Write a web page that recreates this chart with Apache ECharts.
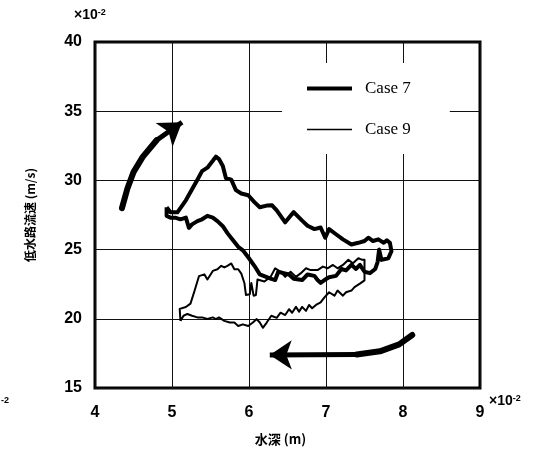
<!DOCTYPE html>
<html>
<head>
<meta charset="utf-8">
<script src="https://cdn.jsdelivr.net/npm/echarts@6/dist/echarts.min.js"></script>
<style>
  html, body { margin: 0; padding: 0; background: #fff; }
  #mainBox { width: 537px; height: 460px; }
</style>
</head>
<body>
<div id="mainBox"></div>
<script>
// axis ranges (x: 水深 ×10^-2 m, y: 低水路流速 ×10^-2 m/s)
var xTicks = [4, 5, 6, 7, 8, 9];
var yTicks = [15, 20, 25, 30, 35, 40];

// Case 7 (thick loop)
var case7 = [[4.93,28.06],[4.98,27.7],[5.07,27.69],[5.18,28.56],[5.33,30.05],[5.39,30.67],[5.46,30.92],[5.53,31.42],[5.57,31.72],[5.61,31.54],[5.66,31.04],[5.70,30.17],[5.77,30.05],[5.83,29.30],[5.90,29.05],[5.99,28.93],[6.07,28.43],[6.14,28.06],[6.23,28.18],[6.30,28.2],[6.36,27.83],[6.47,26.97],[6.58,27.71],[6.69,27.09],[6.76,26.72],[6.85,26.48],[6.93,26.60],[6.99,25.86],[7.04,26.48],[7.13,26.11],[7.22,25.74],[7.33,25.37],[7.42,25.49],[7.50,25.62],[7.55,25.86],[7.61,25.62],[7.68,25.74],[7.75,25.49],[7.79,25.67],[7.83,25.49],[7.85,24.88],[7.81,24.38],[7.72,24.26],[7.69,25.0],[7.67,24.1],[7.64,23.6],[7.57,23.3],[7.5,23.4],[7.44,23.9],[7.39,23.6],[7.33,23.9],[7.26,23.5],[7.2,23.6],[7.13,23.1],[7.04,23.0],[6.98,22.8],[6.93,22.6],[6.89,22.8],[6.85,23.1],[6.76,23.2],[6.69,22.8],[6.58,22.9],[6.52,23.2],[6.45,23.3],[6.38,23.4],[6.34,22.8],[6.28,22.9],[6.23,23.01],[6.14,23.21],[6.07,23.83],[5.99,24.45],[5.92,24.95],[5.86,25.20],[5.79,25.70],[5.72,26.19],[5.66,26.69],[5.59,27.06],[5.53,27.31],[5.46,27.44],[5.39,27.19],[5.33,27.06],[5.26,26.82],[5.22,26.57],[5.18,27.31],[5.11,27.19],[5.04,27.31],[4.98,27.31],[4.93,27.44],[4.93,28.06]];

// Case 9 (thin loop)
var case9 = [[5.11,19.85],[5.10,20.72],[5.18,20.85],[5.24,21.1],[5.29,21.97],[5.35,23.08],[5.42,23.21],[5.46,22.84],[5.53,23.46],[5.59,23.58],[5.64,23.83],[5.68,23.71],[5.72,23.83],[5.77,24.0],[5.81,23.58],[5.86,23.58],[5.90,23.26],[5.94,22.59],[5.96,21.72],[6.01,21.77],[6.03,22.59],[6.06,21.67],[6.09,21.72],[6.11,22.84],[6.2,22.7],[6.28,23.03],[6.34,23.65],[6.41,23.40],[6.47,23.03],[6.54,23.40],[6.61,23.03],[6.67,23.28],[6.74,23.65],[6.80,23.52],[6.89,23.52],[6.96,23.77],[7.02,23.65],[7.09,23.89],[7.15,23.65],[7.22,23.89],[7.29,24.26],[7.35,24.01],[7.42,24.38],[7.47,24.26],[7.50,24.26],[7.50,22.78],[7.44,22.54],[7.37,22.29],[7.33,22.04],[7.26,21.92],[7.22,21.67],[7.15,22.04],[7.11,21.67],[7.04,21.92],[6.98,21.55],[6.93,21.18],[6.87,21.0],[6.82,20.76],[6.78,21.0],[6.74,20.57],[6.69,20.86],[6.65,20.52],[6.61,20.86],[6.56,20.44],[6.52,20.69],[6.47,20.27],[6.41,20.44],[6.36,20.07],[6.29,20.22],[6.23,19.73],[6.18,19.35],[6.14,19.73],[6.10,19.98],[6.05,19.73],[5.99,19.48],[5.92,19.60],[5.86,19.48],[5.81,19.73],[5.75,19.73],[5.68,19.85],[5.61,20.10],[5.57,19.98],[5.53,20.10],[5.46,19.98],[5.39,20.10],[5.33,20.10],[5.26,20.22],[5.20,20.35],[5.15,20.22],[5.11,19.85]];

// direction arrows (body, then last segment carries the head)
var arrowUp = [[4.35,28.0],[4.42,29.4],[4.50,30.6],[4.62,31.7],[4.80,32.9],[5.13,34.2]];
var arrowLeft = [[8.12,18.83],[7.95,18.15],[7.70,17.65],[7.40,17.42],[6.27,17.38]];

var labelFont = { color: '#000', fontFamily: 'Liberation Sans', fontWeight: 'bold', fontSize: 16 };
var expRich = {
    a: { fontFamily: 'Liberation Sans', fontWeight: 'bold', fontSize: 14, color: '#000' },
    b: { fontFamily: 'Liberation Sans', fontWeight: 'bold', fontSize: 9, color: '#000', verticalAlign: 'top', padding: [0, 0, 6, 0] }
};

function headOf(pts) {
    return [pts[pts.length - 2], pts[pts.length - 1]];
}

var myChart = echarts.init(document.getElementById('mainBox'));

var option = {
    animation: false,
    backgroundColor: '#fff',
    grid: {
        left: 95, top: 42, right: 57, bottom: 72,
        show: true, borderColor: '#000', borderWidth: 3, backgroundColor: 'transparent'
    },
    xAxis: {
        type: 'value', min: xTicks[0], max: xTicks[xTicks.length - 1], interval: 1,
        axisLine: { show: false },
        axisTick: { show: false },
        axisLabel: Object.assign({ margin: 17 }, labelFont),
        splitLine: { show: true, lineStyle: { color: '#111', width: 1 } },
        name: '水深 (m)', nameLocation: 'middle', nameGap: 45,
        nameTextStyle: { color: '#000', fontFamily: 'Noto Sans CJK JP', fontWeight: 'bold', fontSize: 13, padding: [0, 14, 0, 0] }
    },
    yAxis: {
        type: 'value', min: yTicks[0], max: yTicks[yTicks.length - 1], interval: 5,
        axisLine: { show: false },
        axisTick: { show: false },
        axisLabel: Object.assign({ margin: 13 }, labelFont),
        splitLine: { show: true, lineStyle: { color: '#111', width: 1 } },
        name: '低水路流速 (m/s)', nameLocation: 'middle', nameGap: 59, nameRotate: 90,
        nameTextStyle: { color: '#000', fontFamily: 'Noto Sans CJK JP', fontWeight: 'bold', fontSize: 12 }
    },
    legend: {
        orient: 'vertical', left: 282, top: 63,
        backgroundColor: '#fff',
        padding: [17, 39, 16, 25],
        itemWidth: 45, itemHeight: 16, itemGap: 24,
        textStyle: { color: '#000', fontFamily: 'Liberation Serif', fontSize: 17, padding: [0, 0, 0, 8] },
        data: [
            { name: 'Case 7', icon: 'path://M0,0L45,0L45,4L0,4Z', itemStyle: { color: '#000', borderWidth: 0 } },
            { name: 'Case 9', icon: 'path://M0,0L45,0L45,1.4L0,1.4Z', itemStyle: { color: '#000', borderWidth: 0 } }
        ]
    },
    graphic: [
        { type: 'text', left: 74, top: 8, style: { rich: expRich, text: '{a|×10}{b|-2}' } },
        { type: 'text', left: 489, top: 394, style: { rich: expRich, text: '{a|×10}{b|-2}' } },
        { type: 'text', left: 1, top: 396, style: { text: '-2', fontFamily: 'Liberation Sans', fontWeight: 'bold', fontSize: 9, fill: '#000' } }
    ],
    series: [
        {
            name: 'Case 7', type: 'line', data: case7, showSymbol: false, symbol: 'none',
            lineStyle: { color: '#000', width: 4, join: 'round' }, itemStyle: { color: '#000' }, z: 5
        },
        {
            name: 'Case 9', type: 'line', data: case9, showSymbol: false, symbol: 'none',
            lineStyle: { color: '#000', width: 2, join: 'round' }, itemStyle: { color: '#000' }, z: 5
        },
        {
            type: 'lines', coordinateSystem: 'cartesian2d', polyline: true,
            lineStyle: { color: '#000', width: 6, opacity: 1, cap: 'round', join: 'round' },
            data: [{ coords: arrowUp.slice(0, -1) }, { coords: arrowLeft.slice(0, -1) }], z: 6
        },
        {
            type: 'lines', coordinateSystem: 'cartesian2d',
            symbol: ['none', 'arrow'], symbolSize: [11, 22],
            lineStyle: { color: '#000', width: 5, opacity: 1, curveness: 0 },
            data: [{ coords: headOf(arrowUp) }, { coords: headOf(arrowLeft) }], z: 6
        }
    ]
};

myChart.setOption(option);
</script>
</body>
</html>
